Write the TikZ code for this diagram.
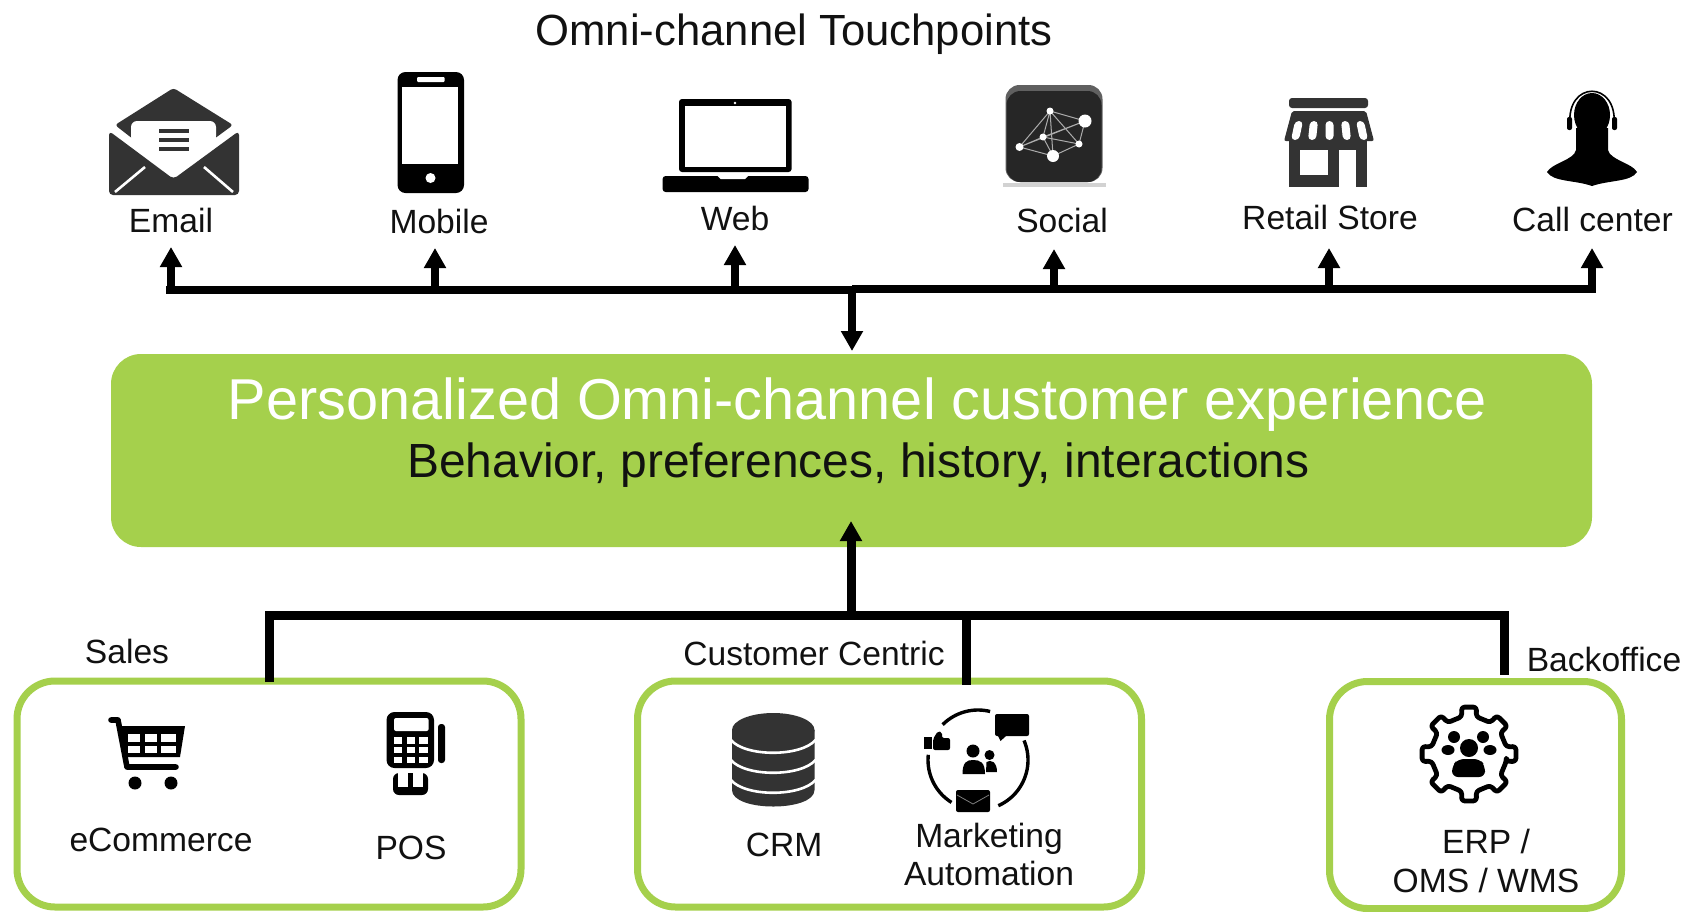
\documentclass[tikz,border=0pt]{standalone}
\usepackage{fontspec}
\setmainfont{Liberation Sans}
\usetikzlibrary{arrows.meta}
\definecolor{leaf}{HTML}{A5D04C}
\definecolor{ink}{HTML}{111111}
\definecolor{dark}{HTML}{333333}
\tikzset{
  x=0.5pt,y=-0.5pt,
  lbl/.style={anchor=base,inner sep=0,outer sep=0,text=ink,align=center,font=\fontsize{16.8}{18}\selectfont},
  group/.style={draw=leaf,line width=3.5pt,fill=white,rounded corners=19pt,inner sep=0,outer sep=0},
  bus/.style={line width=4.3pt,black},
  riser/.style={line width=4pt,black,-{Triangle[length=10pt,width=10.5pt]}},
  stem/.style={line width=4.5pt,black},
  ico/.style={fill=black,draw=none},
  icd/.style={fill=dark,draw=none},
  hole/.style={fill=white,draw=none}
}
\begin{document}
\begin{tikzpicture}
\useasboundingbox (0,0) rectangle (1685,911);
\fill[white] (0,0) rectangle (1685,911);

% ---- main panel
\node[fill=leaf,rounded corners=15pt,inner sep=0,outer sep=0,minimum width=740.5pt,minimum height=96.5pt] (exp) at (851.5,450.5) {};
\node[lbl,text=white,font=\fontsize{28.82}{32}\selectfont] (exptitle) at (857.5,419) {Personalized Omni-channel customer experience};
\node[lbl,font=\fontsize{23.97}{28}\selectfont] (expsub) at (858.5,477) {Behavior, preferences, history, interactions};

% ---- title
\node[lbl,font=\fontsize{21.82}{24}\selectfont] (title) at (794,45) {Omni-channel Touchpoints};

% ---- touchpoint labels
\node[lbl] (lEmail) at (171,232) {Email};
\node[lbl] (lMobile) at (439,233) {Mobile};
\node[lbl] (lWeb) at (735,230) {Web};
\node[lbl] (lSocial) at (1062,232) {Social};
\node[lbl] (lRetail) at (1330,229) {Retail Store};
\node[lbl] (lCall) at (1592.5,231) {Call center};

% ---- group boxes
\node[group,minimum width=252pt,minimum height=113pt] (sales) at (269,794) {};
\node[group,minimum width=252pt,minimum height=113pt] (centric) at (889.5,794) {};
\node[group,minimum width=146pt,minimum height=113.5pt] (back) at (1475.5,795) {};

\node[lbl] (lSales) at (127,663) {Sales};
\node[lbl] (lCentric) at (814,665) {Customer Centric};
\node[lbl] (lBack) at (1604,671) {Backoffice};
\node[lbl] (lEcom) at (161,851) {eCommerce};
\node[lbl] (lPos) at (411,859) {POS};
\node[lbl] (lCrm) at (784,856) {CRM};
\node[lbl] (lMkt) at (989,847) {Marketing};
\node[lbl] (lAuto) at (989,885) {Automation};
\node[lbl] (lErp) at (1486,853) {ERP /};
\node[lbl] (lOms) at (1486,892) {OMS / WMS};

% ---- connectors, top
\coordinate (busL) at (166,290);
\coordinate (busM) at (852,290);
\coordinate (busMr) at (852,289);
\coordinate (busR) at (1596,289);
\draw[bus] (busL) -- (busM);
\draw[bus] (busMr) -- (busR);
\coordinate (tE) at (171,247);
\coordinate (tM) at (435,248);
\coordinate (tW) at (735,245);
\coordinate (tS) at (1054,249);
\coordinate (tR) at (1329,248);
\coordinate (tC) at (1592,248);
\foreach \t/\b in {tE/busL,tM/busL,tW/busL,tS/busR,tR/busR,tC/busR}
  \draw[riser] (\t |- \b) -- (\t);
\draw[riser] (busMr) -- ([yshift=1.5pt]exp.north -| busMr);

% ---- connectors, bottom
\coordinate (lowL) at (269,615);
\coordinate (lowM) at (851,615);
\coordinate (lowC) at (966,615);
\coordinate (lowR) at (1504,615);
\coordinate (capL) at (269,682);
\coordinate (capC) at (966,685);
\coordinate (capR) at (1504,675);
\draw[stem,miter limit=10] (capL) -- (lowL) -- (lowR) -- (capR);
\draw[stem] (lowC) -- (capC);
\draw[riser,line width=4.5pt] (lowM) -- (851,521);

% ---- Email icon
\fill[icd,rounded corners=2pt] (109,131) -- (173.5,179) -- (239,131) -- (239,195) -- (109,195) -- cycle;
\fill[icd,rounded corners=1.5pt] (173.5,88) -- (115,125) -- (133,139) -- (214,139) -- (233,125) -- cycle;
\fill[hole,rounded corners=3pt] (131,121) -- (216,121) -- (216,142) -- (173.5,174) -- (131,142) -- cycle;
\draw[white,line width=1.3pt] (115,192) -- (145,167) (233,192) -- (204,167);
\draw[dark,line width=1.6pt] (159,131) -- (189,131) (159,140) -- (189,140) (159,149) -- (189,149);

% ---- Mobile icon
\fill[ico,rounded corners=4pt] (397.5,72) rectangle (464,193);
\fill[hole] (402,87) rectangle (458,164);
\fill[hole,rounded corners=.5pt] (417,77) rectangle (444.5,82);
\fill[hole] (430.5,178) circle [radius=5];

% ---- Laptop icon
\fill[ico,rounded corners=1.5pt] (679,99) rectangle (791.6,172);
\fill[hole] (684.5,106) rectangle (786,167);
\fill[hole] (735,103) circle [radius=1.4];
\fill[ico,rounded corners=1.5pt] (662.6,176) rectangle (808.5,192);
\fill[hole] (717.5,176) -- (748,176) -- (745,179) -- (720.5,179) -- cycle;

% ---- Social icon
\fill[gray!35] (1003,183) rectangle (1106,187);
\fill[gray!75!black,rounded corners=7pt] (1005.5,85) rectangle (1102.5,182);
\fill[black!85,rounded corners=7pt] (1006.5,91) rectangle (1101.5,182);
\draw[gray!65,line width=.5pt,line join=round]
  (1050,111) -- (1085,121) -- (1079,144) -- (1053,156) -- (1019.5,147) -- (1050,111)
  (1050,111) -- (1043,137) -- (1053,156) (1050,111) -- (1079,144) (1050,111) -- (1053,156)
  (1019.5,147) -- (1043,137) -- (1085,121) (1019.5,147) -- (1085,121) (1043,137) -- (1079,144);
\foreach \px/\py/\pr in {1050/111/3.5,1085/121/6.5,1043/137/3.5,1019.5/147/4,1079/144/3.5,1053/156/6}
  \fill[white] (\px,\py) circle [radius=\pr];

% ---- Store icon
\fill[icd,rounded corners=1.5pt] (1289,98) rectangle (1368,108);
\fill[icd,rounded corners=1pt] (1292,111) -- (1366,111) -- (1374,141) -- (1284,141) -- cycle;
\fill[icd] (1289,139) rectangle (1367,187);
\foreach \a/\b in {1295/1291,1310/1308,1325.5/1325.5,1341/1343,1356/1360}
  \fill[white,rounded corners=2pt] (\a,121) -- (\a+8,121) -- (\b+8,140) -- (\b,140) -- cycle;
\fill[hole] (1300,150) rectangle (1328,175);
\fill[hole] (1339,150) rectangle (1356,187);

% ---- Call centre icon
\fill[ico] (1592,115) ellipse [x radius=18,y radius=22];
\fill[ico] (1576,128) -- (1576,150) .. controls (1574,160) and (1552,163) .. (1547,172) .. controls (1553,182) and (1575,180) .. (1592,186) .. controls (1609,180) and (1631,182) .. (1637,172) .. controls (1632,163) and (1610,160) .. (1608,150) -- (1608,128) -- cycle;
\draw[black,line width=.8pt] (1570,125) .. controls (1566,80) and (1618,80) .. (1614,125);
\fill[ico,rounded corners=1pt] (1567,117) rectangle (1572,130);
\fill[ico,rounded corners=1pt] (1612,117) rectangle (1617,130);

% ---- Cart icon
\draw[black,line width=2.8pt,line cap=round,line join=round] (111,720) -- (118,720) -- (127,767) -- (176,767);
\fill[ico] (118,726) -- (185,726) -- (180,757) -- (124,757) -- cycle;
\foreach \a/\b in {128/140,145/157,161/176}{
  \fill[hole] (\a,734) rectangle (\b,742);
  \fill[hole] (\a,746) rectangle (\b,753);}
\fill[ico] (135,783) circle [radius=6.5];
\fill[ico] (171,783) circle [radius=6.5];

% ---- POS icon
\fill[ico,rounded corners=4pt] (386.5,712) rectangle (434,768);
\fill[hole,rounded corners=1pt] (394,718) rectangle (428.6,731);
\foreach \a/\b in {394/402,407/415,419/428}
  \foreach \c/\d in {737/744,747/753,757/763}
    \fill[hole] (\a,\c) rectangle (\b,\d);
\fill[ico,rounded corners=1.5pt] (438,724) rectangle (445,763);
\fill[ico,rounded corners=3pt] (393,773) rectangle (428,795);
\fill[hole] (398,773) rectangle (408,787);
\fill[hole] (413,773) rectangle (423,787);

% ---- CRM icon
\fill[icd] (732,730) -- (732,790) .. controls (732,812) and (814.5,812) .. (814.5,790) -- (814.5,730) -- cycle;
\fill[icd] (773.25,730) ellipse [x radius=41.25,y radius=17];
\foreach \q in {740,760,780}
  \draw[white,line width=1.3pt] (731,\q) .. controls (745,\q+17) and (801,\q+17) .. (815.5,\q);

% ---- Marketing icon
\draw[black,line width=1.7pt] plot[domain=135:76,samples=20] ({978+50*cos(\x)},{760-50*sin(\x)});
\draw[black,line width=1.7pt] plot[domain=23:-66,samples=30] ({978+50*cos(\x)},{760-50*sin(\x)});
\draw[black,line width=1.7pt] plot[domain=174:238,samples=20] ({978+50*cos(\x)},{760-50*sin(\x)});
\fill[ico,rounded corners=1pt] (995,714) rectangle (1029,736);
\fill[ico] (998,736) -- (1000.5,741) -- (1006,736) -- cycle;
\fill[ico] (924,737) rectangle (931.5,749);
\fill[ico,rounded corners=1pt] (933,750) -- (933,739) -- (938,731) -- (942,732) -- (942,738) -- (950,738) -- (950,750) -- cycle;
\fill[ico] (973,751) circle [radius=6.5];
\fill[ico] (989.5,755) circle [radius=5];
\fill[ico] (962.5,774) .. controls (962.5,762) and (967,760) .. (973,760) .. controls (980,760) and (985,762) .. (985,774) -- cycle;
\fill[ico] (986,772) -- (986.5,762) .. controls (991,759) and (997,762) .. (997,772) -- cycle;
\fill[ico,rounded corners=1pt] (956,790) rectangle (990,812);
\draw[gray,line width=.4pt] (957,795) -- (973,804) -- (989,795);

% ---- Gear icon
\draw[black,line width=2.4pt,line join=round,rounded corners=1.5pt,fill=white]
  ({1469+38*cos(-11)},{754-38*sin(-11)})
  \foreach \g in {0,45,...,315}{
    -- ({1469+38*cos(\g-11)},{754-38*sin(\g-11)})
    -- ({1469+47.5*cos(\g-9)},{754-47.5*sin(\g-9)})
    -- ({1469+47.5*cos(\g+9)},{754-47.5*sin(\g+9)})
    -- ({1469+38*cos(\g+11)},{754-38*sin(\g+11)})
  } -- cycle;
\fill[ico] (1469,748) circle [radius=9];
\fill[ico] (1454,737) circle [radius=6];
\fill[ico] (1483,737) circle [radius=6];
\fill[ico] (1448,750) ellipse [x radius=6.5,y radius=5];
\fill[ico] (1490,750) ellipse [x radius=6.5,y radius=5];
\fill[ico,rounded corners=3pt] (1452,777) -- (1452,766) -- (1458,759) -- (1480,759) -- (1485,766) -- (1485,777) -- cycle;
\end{tikzpicture}
\end{document}
